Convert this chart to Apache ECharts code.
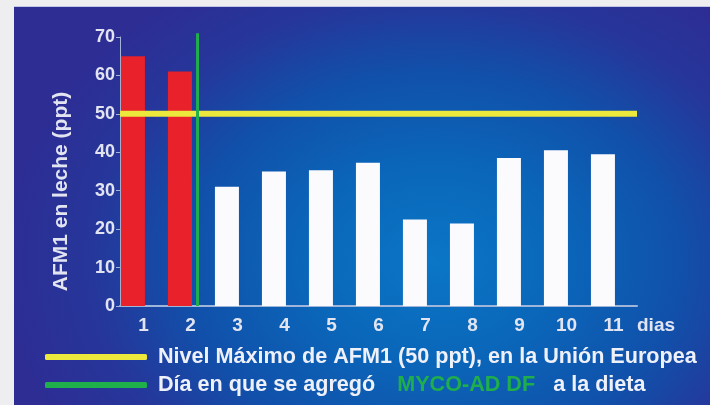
<!DOCTYPE html>
<html>
<head>
<meta charset="utf-8">
<script src="https://cdn.jsdelivr.net/npm/echarts@6/dist/echarts.min.js"></script>
<style>
  html, body { margin: 0; padding: 0; width: 710px; height: 405px; overflow: hidden; background: #eeeef1; }
  #panel {
    position: absolute; left: 14px; top: 6px; right: 0; bottom: 0;
    border-top: 1px solid #c3c6e6;
    background: radial-gradient(ellipse 430px 330px at 420px 255px,
      #0b76c6 0%, #0a66b9 30%, #1150aa 58%, #26369a 80%, #2d2d94 100%);
  }
  #chart { position: absolute; left: 0; top: 0; width: 710px; height: 405px; }
</style>
</head>
<body>
<div id="panel"></div>
<div id="chart"></div>
<script>
// Aflatoxin M1 in milk, per day of sampling
const days = ['1', '2', '3', '4', '5', '6', '7', '8', '9', '10', '11'];
const afm1 = [65, 61, 31, 35, 35.3, 37.3, 22.5, 21.5, 38.5, 40.5, 39.5];
const yTicks = [0, 10, 20, 30, 40, 50, 60, 70];
const euLimit = 50;            // EU maximum level (ppt)
const additiveDay = 2.15;      // day the additive entered the diet
const additiveLineTop = 71;
const daysBeforeAdditive = 2;  // bars drawn in red

const limitName = 'Nivel Máximo de AFM1 (50 ppt), en la Unión Europea';
const additiveName = 'Día en que se agregó MYCO-AD DF a la dieta';

const FONT = "'Liberation Sans', Arial, sans-serif";
const TXT = '#e2e5f1';
const AXIS = '#9fb6da';
const LEGEND_SIZE = 21.6;

const chart = echarts.init(document.getElementById('chart'), null, { renderer: 'canvas' });

chart.setOption({
  animation: false,
  backgroundColor: 'transparent',
  textStyle: { fontFamily: FONT },
  grid: { left: 120, top: 37, width: 517, height: 269, containLabel: false },
  legend: {
    orient: 'vertical',
    left: 45,
    top: 345,
    padding: 0,
    itemWidth: 102,
    itemHeight: 6,
    itemGap: 4,
    selectedMode: false,
    data: [
      { name: limitName, icon: 'roundRect' },
      { name: additiveName, icon: 'roundRect' }
    ],
    formatter: function (name) {
      if (name === additiveName) {
        return 'Día en que se agregó {g|MYCO-AD DF} a la dieta';
      }
      return name;
    },
    textStyle: {
      color: '#eef0fa',
      fontSize: LEGEND_SIZE,
      fontWeight: 'bold',
      fontFamily: FONT,
      lineHeight: 24,
      padding: [0, 0, 0, 6],
      rich: {
        g: {
          color: '#1fae4b', fontSize: LEGEND_SIZE, fontWeight: 'bold', fontFamily: FONT,
          lineHeight: 24, padding: [0, 12, 0, 16]
        }
      }
    }
  },
  xAxis: [
    {
      type: 'category',
      data: days,
      gridIndex: 0,
      axisLine: { lineStyle: { color: AXIS, width: 2 } },
      axisTick: { show: false },
      axisLabel: { color: TXT, fontSize: 19, fontWeight: 'bold', margin: 10, fontFamily: FONT },
      name: 'dias',
      nameLocation: 'end',
      nameGap: 0,
      nameTextStyle: {
        color: TXT, fontSize: 19, fontWeight: 'bold', fontFamily: FONT,
        align: 'left', verticalAlign: 'top', padding: [10, 0, 0, 0]
      }
    },
    {
      type: 'value',
      gridIndex: 0,
      min: 0.5,
      max: days.length + 0.5,
      show: false
    }
  ],
  yAxis: {
    type: 'value',
    min: yTicks[0],
    max: yTicks[yTicks.length - 1],
    interval: yTicks[1] - yTicks[0],
    axisLine: { show: true, lineStyle: { color: AXIS, width: 1 } },
    axisTick: { show: true, length: 4, lineStyle: { color: AXIS } },
    splitLine: { show: false },
    axisLabel: { color: TXT, fontSize: 18, fontWeight: 'bold', margin: 5, fontFamily: FONT },
    name: 'AFM1 en leche (ppt)',
    nameLocation: 'middle',
    nameRotate: 90,
    nameGap: 48,
    nameTextStyle: {
      color: TXT, fontSize: 21, fontWeight: 'bold', fontFamily: FONT,
      padding: [0, 40, 0, 0]
    }
  },
  series: [
    {
      name: 'AFM1',
      type: 'bar',
      xAxisIndex: 0,
      data: afm1,
      barWidth: 24,
      barGap: '-12%',
      itemStyle: {
        color: function (p) { return p.dataIndex < daysBeforeAdditive ? '#e8212b' : '#fbfbfe'; }
      }
    },
    {
      // empty companion bar: keeps each day's bar to the left of its label
      name: 'spacer',
      type: 'bar',
      xAxisIndex: 0,
      data: days.map(function () { return null; }),
      barWidth: 24,
      barGap: '-12%'
    },
    {
      name: limitName,
      type: 'line',
      xAxisIndex: 1,
      data: [[0.5, euLimit], [days.length + 0.5, euLimit]],
      symbol: 'none',
      clip: false,
      lineStyle: { color: '#ece83c', width: 6 },
      itemStyle: { color: '#ece83c' },
      z: 3
    },
    {
      name: additiveName,
      type: 'line',
      xAxisIndex: 1,
      data: [[additiveDay, 0], [additiveDay, additiveLineTop]],
      symbol: 'none',
      clip: false,
      lineStyle: { color: '#1fb04c', width: 3 },
      itemStyle: { color: '#1fb04c' },
      z: 4
    }
  ]
});
</script>
</body>
</html>
